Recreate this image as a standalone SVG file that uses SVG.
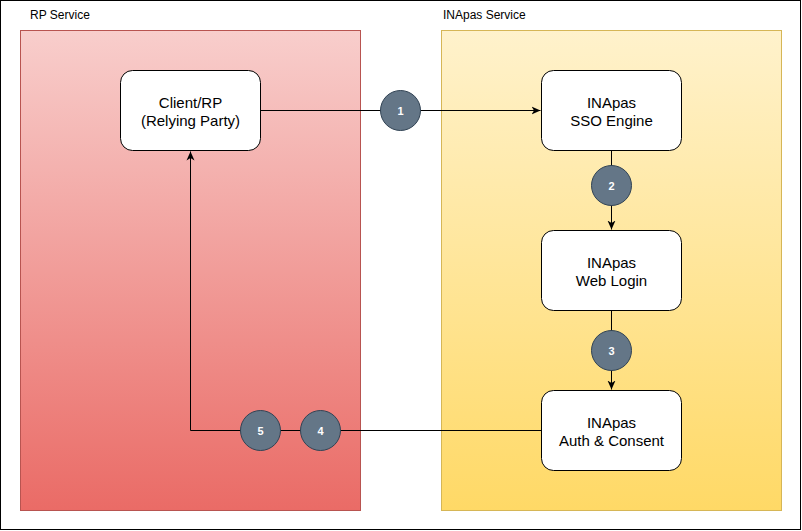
<svg xmlns="http://www.w3.org/2000/svg" width="802" height="531" viewBox="0 0 802 531">
<style>
.lbl{font-family:"Liberation Sans",Arial,sans-serif;font-size:12px;fill:#000}
.node rect{fill:#fff;stroke:#000;stroke-width:1}
.node text{font-family:"Liberation Sans",Arial,sans-serif;font-size:15px;fill:#000;text-anchor:middle}
.step circle{fill:#647687;stroke:#314354;stroke-width:1}
.step text{font-family:"Liberation Sans",Arial,sans-serif;font-size:11px;font-weight:bold;fill:#fff;text-anchor:middle}
.conn{fill:none;stroke:#000;stroke-width:1}
</style>
<defs>
<linearGradient id="gRed" x1="0" y1="0" x2="0" y2="1"><stop offset="0" stop-color="#f8cecc"/><stop offset="1" stop-color="#ea6b66"/></linearGradient>
<linearGradient id="gYel" x1="0" y1="0" x2="0" y2="1"><stop offset="0" stop-color="#fff2cc"/><stop offset="1" stop-color="#ffd966"/></linearGradient>
<marker id="arr" viewBox="0 0 10 10" refX="9" refY="5" markerWidth="10" markerHeight="10" markerUnits="userSpaceOnUse" orient="auto"><path d="M0,1 L9,5 L0,9 L2.5,5 Z" fill="#000"/></marker>
</defs>
<rect x="0.5" y="0.5" width="800" height="529" fill="#fff" stroke="#000" stroke-width="1"/>
<g id="rp-service">
<rect x="20.5" y="30.5" width="340" height="480" fill="url(#gRed)" stroke="#b85450"/>
<text class="lbl" x="30" y="18.5">RP Service</text>
</g>
<g id="inapas-service">
<rect x="441.5" y="30.5" width="340" height="480" fill="url(#gYel)" stroke="#d6b656"/>
<text class="lbl" x="443" y="18.5">INApas Service</text>
</g>
<g id="connectors">
<path class="conn" d="M260.5,110.5 H540.5" marker-end="url(#arr)"/>
<path class="conn" d="M611.5,150.5 V229.5" marker-end="url(#arr)"/>
<path class="conn" d="M611.5,310.5 V389.5" marker-end="url(#arr)"/>
<path class="conn" d="M541.5,430.5 H190.5 V151.5" marker-end="url(#arr)"/>
</g>
<g id="client-rp" class="node">
<rect x="120.5" y="70.5" width="140" height="80" rx="12"/>
<text x="190.5" y="107.5">Client/RP</text>
<text x="190.5" y="125.5">(Relying Party)</text>
</g>
<g id="sso-engine" class="node">
<rect x="541.5" y="70.5" width="140" height="80" rx="12"/>
<text x="611.5" y="107.5">INApas</text>
<text x="611.5" y="125.5">SSO Engine</text>
</g>
<g id="web-login" class="node">
<rect x="541.5" y="230.5" width="140" height="80" rx="12"/>
<text x="611.5" y="267.5">INApas</text>
<text x="611.5" y="285.5">Web Login</text>
</g>
<g id="auth-consent" class="node">
<rect x="541.5" y="390.5" width="140" height="80" rx="12"/>
<text x="611.5" y="427.5">INApas</text>
<text x="611.5" y="445.5">Auth &amp; Consent</text>
</g>
<g id="step1" class="step"><circle cx="400.5" cy="110.5" r="20"/><text x="400.5" y="114.5">1</text></g>
<g id="step2" class="step"><circle cx="611.5" cy="185.5" r="20"/><text x="611.5" y="189.5">2</text></g>
<g id="step3" class="step"><circle cx="611.5" cy="350.5" r="20"/><text x="611.5" y="354.5">3</text></g>
<g id="step4" class="step"><circle cx="320.5" cy="430.5" r="20"/><text x="320.5" y="434.5">4</text></g>
<g id="step5" class="step"><circle cx="260.5" cy="430.5" r="20"/><text x="260.5" y="434.5">5</text></g>
</svg>
